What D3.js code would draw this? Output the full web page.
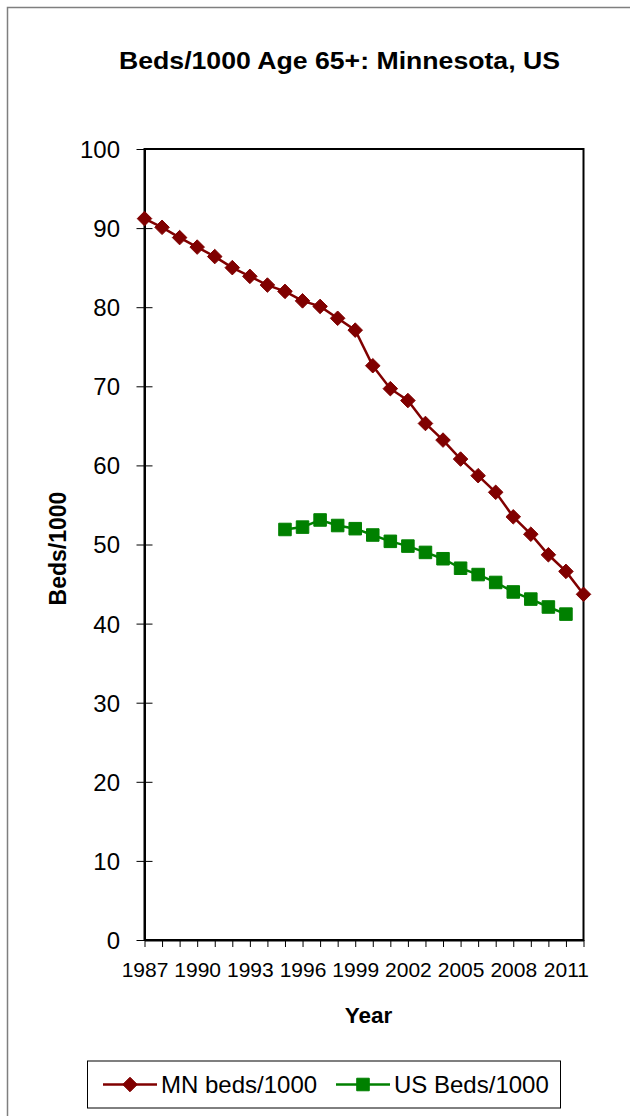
<!DOCTYPE html>
<html>
<head>
<meta charset="utf-8">
<script src="https://cdn.jsdelivr.net/npm/d3@7"></script>
<style>
  html, body { margin: 0; padding: 0; background: #fff; }
  svg { display: block; font-family: Arial, "Liberation Sans", sans-serif; }
</style>
</head>
<body>
<svg id="chart" width="630" height="1116"></svg>
<script>
// Nursing-home beds per 1000 residents aged 65+
const years = d3.range(1987, 2013);
const mnBeds = [91.2, 90.1, 88.8, 87.6, 86.4, 85.0, 83.9, 82.8, 82.0, 80.8, 80.1, 78.6, 77.1,
                72.6, 69.7, 68.2, 65.3, 63.2, 60.8, 58.7, 56.6, 53.5, 51.3, 48.7, 46.6, 43.7];
const usYears = d3.range(1995, 2012);
const usBeds = [51.9, 52.2, 53.1, 52.4, 52.0, 51.2, 50.4, 49.8, 49.0, 48.2, 47.0, 46.2, 45.2,
                44.0, 43.1, 42.1, 41.2];
const yTicks = d3.range(0, 101, 10);
const xTickYears = d3.range(1987, 2012, 3);

const title = "Beds/1000 Age 65+: Minnesota, US";
const xTitle = "Year";
const yTitle = "Beds/1000";
const seriesNames = ["MN beds/1000", "US Beds/1000"];
const mnColor = "#800000";
const usColor = "#008000";

const svg = d3.select("#chart");
const plot = { left: 144.5, right: 583.5, top: 149, bottom: 940 };

const x = d3.scaleLinear().domain([1987, 2012]).range([plot.left, plot.right]);
const y = d3.scaleLinear().domain([0, 100]).range([plot.bottom, plot.top]);

// outer chart border
svg.append("rect")
  .attr("x", 7.5).attr("y", 7.5).attr("width", 700).attr("height", 1200)
  .attr("fill", "none").attr("stroke", "#7f7f7f").attr("stroke-width", 1.5);

// title
svg.append("text")
  .attr("x", 339.5).attr("y", 69)
  .attr("text-anchor", "middle")
  .attr("font-size", 23.5).attr("font-weight", "bold")
  .attr("textLength", 441).attr("lengthAdjust", "spacingAndGlyphs")
  .text(title);

// plot frame
svg.append("rect")
  .attr("x", plot.left).attr("y", plot.top)
  .attr("width", plot.right - plot.left).attr("height", plot.bottom - plot.top)
  .attr("fill", "none").attr("stroke", "#000").attr("stroke-width", 2);

// y axis: ticks cross the axis line
const yAxis = svg.append("g").attr("transform", `translate(${plot.left},0)`)
  .call(d3.axisLeft(y).tickValues(yTicks).tickSize(8).tickSizeOuter(0).tickPadding(16));
yAxis.select(".domain").attr("stroke", "#000").attr("stroke-width", 2);
yAxis.selectAll(".tick line").attr("x2", 8).attr("x1", -8).attr("stroke", "#000");
yAxis.selectAll(".tick text")
  .attr("font-size", 24).attr("fill", "#000").attr("font-family", "Arial, 'Liberation Sans', sans-serif")
  .attr("x", -24.5).attr("dy", "0.35em");

// x axis: one tick per year, labels every third year
const xAxis = svg.append("g").attr("transform", `translate(0,${plot.bottom})`)
  .call(d3.axisBottom(x).tickValues(years).tickSize(7).tickSizeOuter(0)
    .tickFormat(d => xTickYears.includes(d) ? String(d) : ""));
xAxis.select(".domain").attr("stroke", "#000").attr("stroke-width", 2);
xAxis.selectAll(".tick line").attr("stroke", "#000");
xAxis.selectAll(".tick text")
  .attr("font-size", 21).attr("fill", "#000").attr("font-family", "Arial, 'Liberation Sans', sans-serif")
  .attr("y", 37).attr("dy", 0);

// axis titles
svg.append("text")
  .attr("x", 368.5).attr("y", 1023)
  .attr("text-anchor", "middle")
  .attr("font-size", 22.5).attr("font-weight", "bold")
  .text(xTitle);
svg.append("text")
  .attr("transform", "translate(66,548.5) rotate(-90)")
  .attr("text-anchor", "middle")
  .attr("font-size", 23).attr("font-weight", "bold")
  .text(yTitle);

// series
const line = d3.line().x(d => x(d[0])).y(d => y(d[1]));
const mnData = years.map((yr, i) => [yr, mnBeds[i]]);
const usData = usYears.map((yr, i) => [yr, usBeds[i]]);

const diamond = d3.symbol().type(d3.symbolDiamond2).size(135);
const square = d3.symbol().type(d3.symbolSquare2).size(200);

function drawSeries(data, color, shape) {
  svg.append("path").datum(data)
    .attr("d", line).attr("fill", "none")
    .attr("stroke", color).attr("stroke-width", 2.5);
  svg.append("g").selectAll("path").data(data).join("path")
    .attr("transform", d => `translate(${x(d[0])},${y(d[1])})`)
    .attr("d", shape)
    .attr("fill", color).attr("stroke", color).attr("stroke-width", 1);
}
drawSeries(mnData, mnColor, diamond);
drawSeries(usData, usColor, square);

// legend
const legend = svg.append("g");
legend.append("rect")
  .attr("x", 87.5).attr("y", 1061).attr("width", 473).attr("height", 47)
  .attr("fill", "#fff").attr("stroke", "#000").attr("stroke-width", 1);
const legendItems = [
  { name: seriesNames[0], color: mnColor, shape: diamond, x0: 103 },
  { name: seriesNames[1], color: usColor, shape: square, x0: 336 }
];
legendItems.forEach(it => {
  legend.append("line")
    .attr("x1", it.x0).attr("x2", it.x0 + 54).attr("y1", 1084.5).attr("y2", 1084.5)
    .attr("stroke", it.color).attr("stroke-width", 2.5);
  legend.append("path")
    .attr("transform", `translate(${it.x0 + 27},1084.5)`)
    .attr("d", it.shape).attr("fill", it.color).attr("stroke", it.color);
  legend.append("text")
    .attr("x", it.x0 + 58).attr("y", 1093)
    .attr("font-size", 24)
    .text(it.name);
});
</script>
</body>
</html>
